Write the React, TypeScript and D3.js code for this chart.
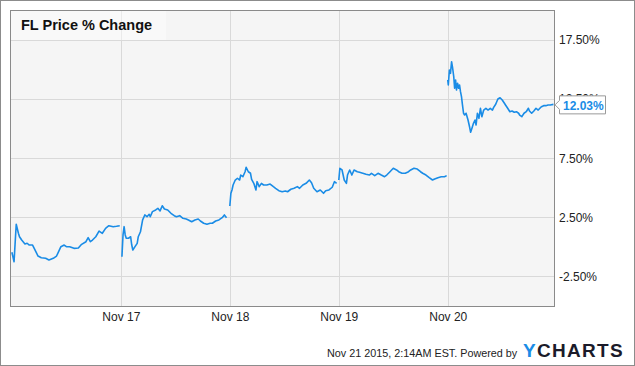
import React from "react";
import * as d3 from "d3";

// Time is in trading days from Nov 16 open (0 = Nov 16, 1 = Nov 17, ...)
const dayLabels = ["Nov 17", "Nov 18", "Nov 19", "Nov 20"];
const dayTicks = [1, 2, 3, 4];
const yTicks = [-2.5, 2.5, 7.5, 12.5, 17.5];
const lastValue = 12.03;

const nov16: [number, number][] = [
  [0.0, -0.46], [0.02, -1.26], [0.04, 1.9], [0.06, 1.14], [0.07, 0.85], [0.09, 0.57],
  [0.12, 0.24], [0.14, 0.3], [0.16, 0.15], [0.19, 0.15], [0.22, -0.41], [0.24, -0.78],
  [0.27, -0.92], [0.31, -0.97], [0.34, -1.11], [0.38, -0.97], [0.41, -0.78], [0.45, 0.01],
  [0.48, 0.15], [0.5, 0.01], [0.53, 0.01], [0.57, -0.13], [0.61, -0.1], [0.64, 0.21],
  [0.68, 0.43], [0.7, 0.77], [0.72, 0.43], [0.74, 0.57], [0.77, 0.85], [0.8, 1.33],
  [0.83, 1.14], [0.86, 1.56], [0.89, 1.78], [0.93, 1.7], [0.96, 1.73], [0.99, 1.78],
];
const nov17: [number, number][] = [
  [1.01, -0.84], [1.02, 1.0], [1.03, 1.7], [1.04, 1.0], [1.05, 0.72], [1.07, 0.72],
  [1.09, 0.85], [1.1, 0.15], [1.11, -0.27], [1.13, 0.01], [1.15, 0.29], [1.16, 0.85],
  [1.18, 1.27], [1.2, 2.27], [1.22, 2.69], [1.24, 2.54], [1.26, 2.75], [1.27, 2.54],
  [1.29, 2.97], [1.32, 3.11], [1.34, 3.25], [1.36, 3.03], [1.38, 3.47], [1.4, 3.19],
  [1.43, 3.11], [1.46, 2.83], [1.49, 2.63], [1.51, 2.54], [1.54, 2.63], [1.57, 2.41],
  [1.6, 2.35], [1.62, 2.27], [1.65, 2.12], [1.68, 2.27], [1.71, 2.35], [1.73, 2.18],
  [1.76, 1.99], [1.79, 1.9], [1.82, 1.99], [1.84, 1.99], [1.87, 2.18], [1.9, 2.27],
  [1.93, 2.46], [1.95, 2.69], [1.97, 2.46],
];
const nov18: [number, number][] = [
  [2.0, 3.45], [2.01, 4.52], [2.02, 4.8], [2.03, 5.22], [2.05, 5.64], [2.07, 5.79],
  [2.09, 5.64], [2.1, 6.06], [2.12, 5.92], [2.14, 6.34], [2.15, 6.72], [2.17, 6.34],
  [2.19, 6.21], [2.2, 5.7], [2.22, 5.36], [2.24, 4.8], [2.25, 5.5], [2.27, 5.08],
  [2.29, 5.36], [2.31, 5.22], [2.34, 5.22], [2.37, 5.3], [2.4, 5.08], [2.42, 4.94],
  [2.45, 4.74], [2.48, 4.65], [2.51, 4.71], [2.53, 4.65], [2.56, 4.86], [2.59, 4.94],
  [2.62, 5.08], [2.64, 4.94], [2.67, 5.22], [2.7, 5.36], [2.73, 5.64], [2.75, 5.41],
  [2.77, 4.94], [2.8, 4.65], [2.83, 4.8], [2.86, 4.52], [2.88, 4.74], [2.91, 4.8],
  [2.94, 5.03], [2.96, 5.5], [2.98, 5.36],
];
const nov19: [number, number][] = [
  [3.0, 5.64], [3.01, 6.63], [3.03, 6.49], [3.05, 5.64], [3.07, 5.36], [3.08, 6.06],
  [3.1, 6.49], [3.12, 6.06], [3.14, 6.49], [3.17, 6.34], [3.19, 6.29], [3.22, 6.21],
  [3.25, 6.12], [3.28, 6.06], [3.3, 6.21], [3.33, 6.01], [3.36, 6.21], [3.39, 6.06],
  [3.42, 5.92], [3.44, 6.06], [3.47, 6.34], [3.5, 6.63], [3.53, 6.49], [3.55, 6.34],
  [3.58, 6.21], [3.61, 6.21], [3.64, 6.34], [3.66, 6.49], [3.69, 6.63], [3.72, 6.57],
  [3.75, 6.34], [3.77, 6.21], [3.8, 6.06], [3.83, 5.84], [3.86, 5.64], [3.88, 5.73],
  [3.91, 5.84], [3.94, 5.92], [3.97, 5.92], [3.99, 6.01],
];
const nov20: [number, number][] = [
  [4.0, 14.09], [4.005, 13.67], [4.015, 14.93], [4.025, 14.65], [4.035, 15.63], [4.045, 15.08],
  [4.055, 14.37], [4.063, 13.39], [4.072, 14.09], [4.08, 13.24], [4.09, 13.81], [4.1, 13.39],
  [4.108, 13.67], [4.117, 13.1], [4.126, 12.68], [4.135, 11.98], [4.145, 11.28], [4.155, 11.13],
  [4.168, 11.28], [4.186, 10.71], [4.2, 10.14], [4.21, 9.67], [4.222, 10.01], [4.236, 10.43],
  [4.25, 10.71], [4.26, 10.29], [4.272, 11.28], [4.286, 10.85], [4.3, 11.7], [4.313, 10.99],
  [4.33, 11.55], [4.35, 11.7], [4.37, 11.55], [4.39, 11.7], [4.41, 11.55], [4.42, 11.75],
  [4.44, 12.04], [4.46, 12.48], [4.48, 12.59], [4.5, 12.4], [4.52, 12.12], [4.53, 11.98],
  [4.55, 11.7], [4.57, 11.41], [4.59, 11.47], [4.61, 11.36], [4.63, 11.41], [4.65, 11.28],
  [4.66, 11.13], [4.68, 10.99], [4.7, 11.28], [4.72, 11.41], [4.74, 11.7], [4.75, 11.47],
  [4.77, 11.28], [4.79, 11.47], [4.81, 11.7], [4.83, 11.55], [4.85, 11.75], [4.86, 11.83],
  [4.88, 11.92], [4.9, 11.92], [4.92, 11.98], [4.94, 11.98], [4.97, 12.03],
];
const days = [nov16, nov17, nov18, nov19, nov20];

const W = 635;
const H = 366;
const PL = 10.5, PR = 554.5, PT = 10.5, PB = 306.5;
const LINE = "#1a8ce6";
const FONT = "Arial, 'Liberation Sans', Helvetica, sans-serif";

export default function App() {
  const x = d3.scaleLinear().domain([-0.008, 4.975]).range([11, 554]);
  const y = d3.scaleLinear().domain([-5, 20]).range([306, 10]);
  const line = d3
    .line<[number, number]>()
    .x((d) => x(d[0]))
    .y((d) => y(d[1]));

  const ly = y(lastValue);

  return (
    <svg
      width={W}
      height={H}
      style={{ position: "absolute", left: 0, top: 0, display: "block" }}
      fontFamily={FONT}
    >
      <rect x={0} y={0} width={W} height={H} fill="#fff" />
      <rect x={0.5} y={0.5} width={W - 1} height={H - 1} fill="none" stroke="#8c8c8c" />
      {/* plot background */}
      <rect x={PL} y={PT} width={PR - PL} height={PB - PT} fill="#f5f5f5" />
      {/* grid */}
      {yTicks.map((t) => (
        <line key={"gy" + t} x1={PL} x2={PR} y1={Math.round(y(t)) + 0.5} y2={Math.round(y(t)) + 0.5} stroke="#d9d9d9" />
      ))}
      {dayTicks.map((t) => (
        <line key={"gx" + t} x1={Math.round(x(t)) + 0.5} x2={Math.round(x(t)) + 0.5} y1={PT} y2={PB} stroke="#d9d9d9" />
      ))}
      {/* title box */}
      <rect x={11} y={11} width={155} height={29} fill="#ffffff" fillOpacity={0.45} />
      <text x={21} y={29.5} fontSize={14.5} fontWeight="bold" fill="#111">
        FL Price % Change
      </text>
      {/* line */}
      <g clipPath="url(#clip)">
        <clipPath id="clip">
          <rect x={PL} y={PT} width={PR - PL} height={PB - PT} />
        </clipPath>
        {days.map((d, i) => (
          <path key={i} d={line(d) || ""} fill="none" stroke={LINE} strokeWidth={1.6} strokeLinejoin="round" />
        ))}
      </g>
      {/* plot border */}
      <rect x={PL} y={PT} width={PR - PL} height={PB - PT} fill="none" stroke="#8a8a8a" />
      {/* y labels */}
      {yTicks.map((t) => (
        <text key={"yl" + t} x={559} y={y(t) + 4.5} fontSize={12} fill="#222">
          {t.toFixed(2) + "%"}
        </text>
      ))}
      {/* x labels */}
      {dayTicks.map((t, i) => (
        <text key={"xl" + t} x={x(t) + 0.5} y={321} fontSize={12} fill="#222" textAnchor="middle">
          {dayLabels[i]}
        </text>
      ))}
      {/* last value label */}
      <path
        d={`M${555},${ly + 0.5} L${559.5},${ly - 4} L${559.5},${ly - 8.5} L${605.5},${ly - 8.5} L${605.5},${ly + 9.5} L${559.5},${ly + 9.5} L${559.5},${ly + 5} Z`}
        fill="#fff"
        stroke="#9a9a9a"
      />
      <text x={563} y={ly + 6} fontSize={12} fontWeight="bold" fill={LINE}>
        {lastValue.toFixed(2) + "%"}
      </text>
      {/* footer */}
      <text x={327} y={356.5} fontSize={10.8} fill="#222">
        Nov 21 2015, 2:14AM EST. Powered by
      </text>
      <text x={523} y={356.5} fontSize={19} fontWeight="900" letterSpacing={1.3} fill="#1b1b2a">
        <tspan fill="#1a8ce6">Y</tspan>CHARTS
      </text>
    </svg>
  );
}
